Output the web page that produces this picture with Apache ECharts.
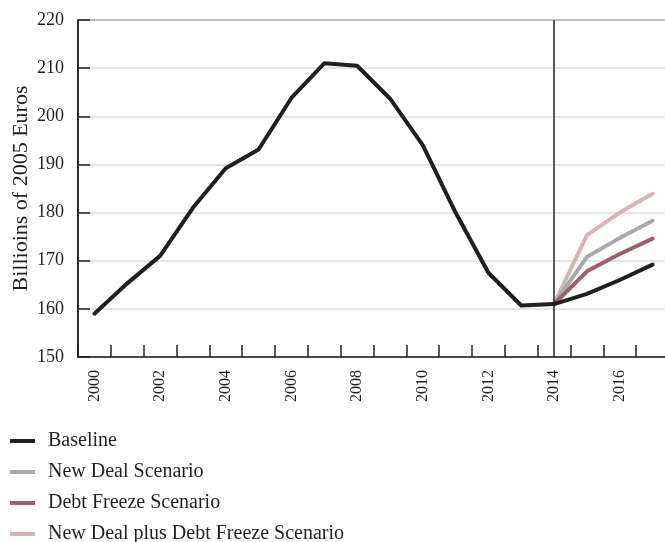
<!DOCTYPE html>
<html>
<head>
<meta charset="utf-8">
<script src="https://cdn.jsdelivr.net/npm/echarts@6/dist/echarts.min.js"></script>
<style>html,body{margin:0;padding:0;background:#fff;overflow:hidden}#c{width:665px;height:542px}</style>
</head>
<body>
<div id="c"></div>
<script>
var years = ['2000','2001','2002','2003','2004','2005','2006','2007','2008','2009','2010','2011','2012','2013','2014','2015','2016','2017'];
var baseline = [159, 165.3, 171, 181, 189.2, 193.1, 203.8, 211, 210.5, 203.7, 194, 180, 167.5, 160.7, 161, 163.1, 166, 169.2];
var newDeal = [null,null,null,null,null,null,null,null,null,null,null,null,null,null, 161, 170.8, 174.7, 178.3];
var debtFreeze = [null,null,null,null,null,null,null,null,null,null,null,null,null,null, 161, 167.8, 171.4, 174.6];
var newDealPlusDebtFreeze = [null,null,null,null,null,null,null,null,null,null,null,null,null,null, 161, 175.3, 180, 183.9];
var seriesNames = ['Baseline','New Deal Scenario','Debt Freeze Scenario','New Deal plus Debt Freeze Scenario'];
var colors = ['#231f20','#a7a9ac','#a05f6b','#d6b3b6'];
var yAxisName = 'Billioins of 2005 Euros';
var dividerYear = '2014';

var font = 'Liberation Serif';
var ink = '#231f20';
var chart = echarts.init(document.getElementById('c'), null, {renderer:'canvas'});

function mk(name, data, color, z) {
  return {
    name: name, type: 'line', data: data, showSymbol: false, symbol: 'none',
    connectNulls: false, z: z,
    lineStyle: {color: color, width: 4, cap: 'round', join: 'round'},
    itemStyle: {color: color}
  };
}

var series = [
  mk(seriesNames[3], newDealPlusDebtFreeze, colors[3], 2),
  mk(seriesNames[1], newDeal, colors[1], 3),
  mk(seriesNames[2], debtFreeze, colors[2], 4),
  mk(seriesNames[0], baseline, colors[0], 5)
];
series[3].markLine = {
  silent: true, symbol: ['none','none'], label: {show: false},
  lineStyle: {color: ink, width: 1.5, type: 'solid'},
  data: [{xAxis: dividerYear}]
};

chart.setOption({
  animation: false,
  textStyle: {fontFamily: font},
  grid: {left: 78, top: 20, right: -4, bottom: 185, outerBoundsMode: 'none', containLabel: false,
         show: true, borderColor: ink, borderWidth: 1.5, backgroundColor: 'transparent'},
  legend: {
    orient: 'vertical', left: 10, top: 431, height: 200, padding: 0,
    itemWidth: 25, itemHeight: 4, itemGap: 11,
    icon: 'rect',
    data: seriesNames,
    textStyle: {fontFamily: font, fontSize: 20, color: ink, padding: [0,0,0,8]}
  },
  xAxis: {
    type: 'category', data: years, boundaryGap: true,
    axisLine: {lineStyle: {color: ink, width: 1.5}},
    axisTick: {show: true, inside: true, length: 12, interval: 0, lineStyle: {color: ink, width: 1.5}},
    axisLabel: {interval: 1, rotate: 90, margin: 13, fontFamily: font, fontSize: 16, color: ink},
    splitLine: {show: false}
  },
  yAxis: {
    type: 'value', min: 150, max: 220, interval: 10,
    name: yAxisName, nameLocation: 'middle', nameGap: 46, nameRotate: 90, nameMoveOverlap: false,
    nameTextStyle: {fontFamily: font, fontSize: 22, color: ink},
    axisLine: {show: true, lineStyle: {color: ink, width: 1.5}},
    axisTick: {show: true, inside: true, length: 12, lineStyle: {color: ink, width: 1.5}},
    axisLabel: {margin: 14, fontFamily: font, fontSize: 18, color: ink},
    splitLine: {show: true, lineStyle: {color: '#dcdcdc', width: 1.5}}
  },
  series: series
});
</script>
</body>
</html>
